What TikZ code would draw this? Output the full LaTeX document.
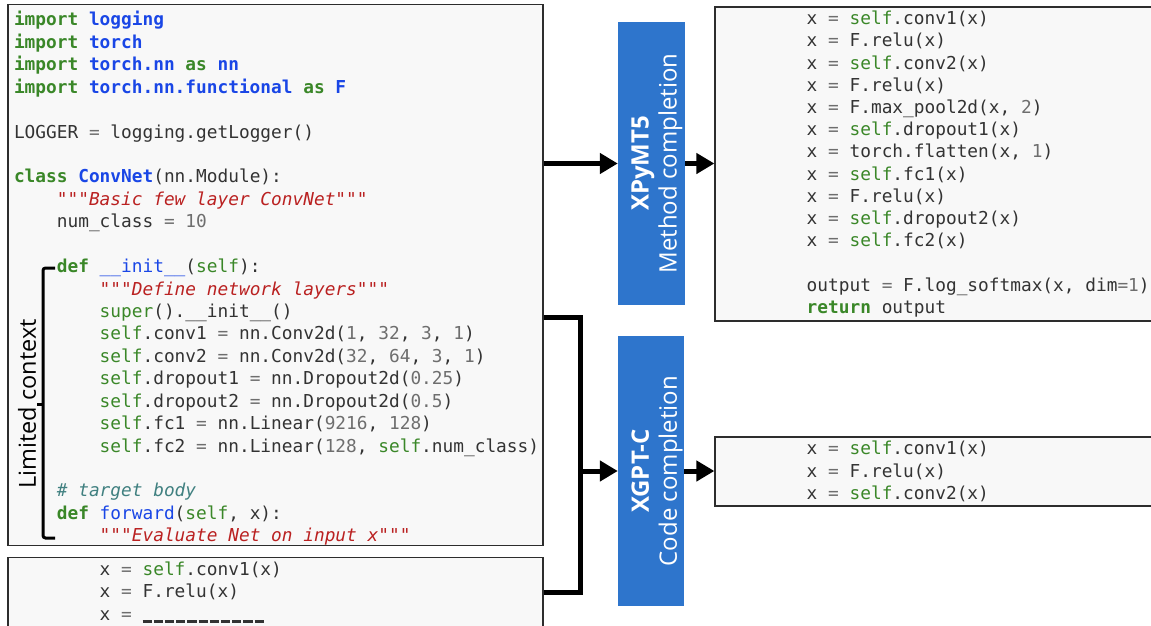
\documentclass[tikz,border=0pt]{standalone}
\usepackage{fontspec}
\setmonofont{DejaVu Sans Mono}
\newfontfamily\lblfont{Open Sans}
\usetikzlibrary{arrows.meta}
\definecolor{kwgreen}{RGB}{58,135,40}
\definecolor{nmblue}{RGB}{25,70,230}
\definecolor{strred}{RGB}{186,33,33}
\definecolor{cmteal}{RGB}{64,128,128}
\definecolor{numgray}{RGB}{110,110,110}
\definecolor{codetext}{RGB}{51,51,51}
\definecolor{boxfill}{RGB}{248,248,248}
\definecolor{boxline}{RGB}{45,45,45}
\definecolor{modelblue}{RGB}{46,117,204}
\newcommand\codefont{\ttfamily\fontsize{17.8pt}{22.43pt}\selectfont}
\newcommand\codefontR{\ttfamily\fontsize{17.8pt}{22.2pt}\selectfont}
\newcommand\monospaces{\spaceskip=10.716pt\relax\xspaceskip=10.716pt\relax\hfuzz=20pt\relax}
\newcommand\cK[1]{\textcolor{kwgreen}{\bfseries #1}}
\newcommand\cN[1]{\textcolor{nmblue}{\bfseries #1}}
\newcommand\cF[1]{\textcolor{nmblue}{#1}}
\newcommand\cB[1]{\textcolor{kwgreen}{#1}}
\newcommand\cQ{\textcolor{strred}{"""}}
\newcommand\cS[1]{\cQ\textcolor{strred}{\itshape #1}\cQ}
\newcommand\cO[1]{\textcolor{numgray}{#1}}
\newcommand\cD[1]{\textcolor{numgray}{#1}}
\newcommand\cC[1]{\textcolor{cmteal}{\itshape #1}}
\newcommand\cU{\rule[-3pt]{9.2pt}{3pt}\hspace{2pt}}
\newcommand\Iv{\hphantom{0000}}
\newcommand\Ivv{\hphantom{00000000}}
\begin{document}
\begin{tikzpicture}[x=1pt,y=-1pt,
  codebox/.style={draw=boxline, line width=1.3pt, fill=boxfill, inner xsep=6pt,
    inner ysep=0pt, align=left, font=\codefont, text=codetext,
    execute at begin node=\monospaces},
  modelbox/.style={fill=modelblue, draw=none, inner sep=0pt},
  modellabel/.style={rotate=90, align=center, text=white, inner sep=0pt,
    font=\lblfont\fontsize{24pt}{28pt}\selectfont},
  conn/.style={line width=5pt, draw=black},
  arr/.style={conn, -{Triangle[length=18pt,width=20pt]}},
  bracketline/.style={line width=3pt, draw=black, rounded corners=2.5pt}
]
\useasboundingbox (0,0) rectangle (1151,626);

% main code box
\node[codebox, minimum width=535pt, minimum height=536pt, text width=523pt] (main) at (275.5,275) {%
\rule{0pt}{21.5pt}\cK{import} \cN{logging}\\
\cK{import} \cN{torch}\\
\cK{import} \cN{torch.nn} \cK{as} \cN{nn}\\
\cK{import} \cN{torch.nn.functional} \cK{as} \cN{F}\\
\mbox{}\\
LOGGER \cO{=} logging.getLogger()\\
\mbox{}\\
\cK{class} \cN{ConvNet}(nn.Module):\\
\Iv\cS{Basic few layer ConvNet}\\
\Iv num\_class \cO{=} \cD{10}\\
\mbox{}\\
\Iv\cK{def} \cF{\_\_init\_\_}(\cB{self}):\\
\Ivv\cS{Define network layers}\\
\Ivv\cB{super}().\_\_init\_\_()\\
\Ivv\cB{self}.conv1 \cO{=} nn.Conv2d(\cD{1}, \cD{32}, \cD{3}, \cD{1})\\
\Ivv\cB{self}.conv2 \cO{=} nn.Conv2d(\cD{32}, \cD{64}, \cD{3}, \cD{1})\\
\Ivv\cB{self}.dropout1 \cO{=} nn.Dropout2d(\cD{0.25})\\
\Ivv\cB{self}.dropout2 \cO{=} nn.Dropout2d(\cD{0.5})\\
\Ivv\cB{self}.fc1 \cO{=} nn.Linear(\cD{9216}, \cD{128})\\
\mbox{\Ivv\cB{self}.fc2 \cO{=} nn.Linear(\cD{128}, \cB{self}.num\_class)}\\
\mbox{}\\
\Iv\cC{\# target body}\\
\Iv\cK{def} \cF{forward}(\cB{self}, x):\\
\Ivv\cS{Evaluate Net on input x}};

% bottom (partial) code box
\node[codebox, minimum width=535pt, text width=523pt, inner ysep=4pt, anchor=north] (bot) at (275.5,557) {%
\Ivv x \cO{=} \cB{self}.conv1(x)\\
\Ivv x \cO{=} F.relu(x)\\
\Ivv x \cO{=} \cU\cU\cU\cU\cU\cU\cU\cU\cU\cU\cU\\
\mbox{}\\
\mbox{}};

% right code boxes
\node[codebox, font=\codefontR, minimum width=450pt, minimum height=314pt, text width=438pt] (rtop) at (940,164) {%
\Ivv x \cO{=} \cB{self}.conv1(x)\\
\Ivv x \cO{=} F.relu(x)\\
\Ivv x \cO{=} \cB{self}.conv2(x)\\
\Ivv x \cO{=} F.relu(x)\\
\Ivv x \cO{=} F.max\_pool2d(x, \cD{2})\\
\Ivv x \cO{=} \cB{self}.dropout1(x)\\
\Ivv x \cO{=} torch.flatten(x, \cD{1})\\
\Ivv x \cO{=} \cB{self}.fc1(x)\\
\Ivv x \cO{=} F.relu(x)\\
\Ivv x \cO{=} \cB{self}.dropout2(x)\\
\Ivv x \cO{=} \cB{self}.fc2(x)\\
\mbox{}\\
\Ivv output \cO{=} F.log\_softmax(x, dim\cO{=}\cD{1})\\
\Ivv\cK{return} output};

\node[codebox, minimum width=450pt, minimum height=69pt, text width=438pt] (rbot) at (940,471.5) {%
\Ivv x \cO{=} \cB{self}.conv1(x)\\
\Ivv x \cO{=} F.relu(x)\\
\Ivv x \cO{=} \cB{self}.conv2(x)};

% model boxes
\node[modelbox, minimum width=67pt, minimum height=283pt] (blue1) at (651.5,163.5) {};
\node[modellabel] (blue1lbl) at ([xshift=5.5pt]blue1.center) {\textbf{XPyMT5}\\Method completion};
\node[modelbox, minimum width=66pt, minimum height=270pt] (blue2) at (651,471) {};
\node[modellabel] (blue2lbl) at ([xshift=6pt]blue2.center) {\textbf{XGPT-C}\\Code completion};

% limited context bracket
\draw[bracketline] (55,268) -- (43,268) -- (43,538) -- (55,538);
\draw[line width=3pt] (43,404) -- (37,404);
\node[rotate=90, inner sep=0pt, font=\lblfont\fontsize{23.5pt}{28pt}\selectfont] (lc) at (27,404) {Limited context};

% connectors
\coordinate (jt) at (580,317);
\coordinate (jb) at (580,592);
\draw[arr] (main.east |- blue1.west) -- (blue1.west);
\draw[arr] (blue1.east) -- (blue1.east -| rtop.west);
\draw[conn] (main.east |- jt) -- (jt) -- (jb) -- (jb -| bot.east);
\draw[arr] (jt |- blue2.west) -- (blue2.west);
\draw[arr] (blue2.east) -- (blue2.east -| rbot.west);
\end{tikzpicture}
\end{document}
